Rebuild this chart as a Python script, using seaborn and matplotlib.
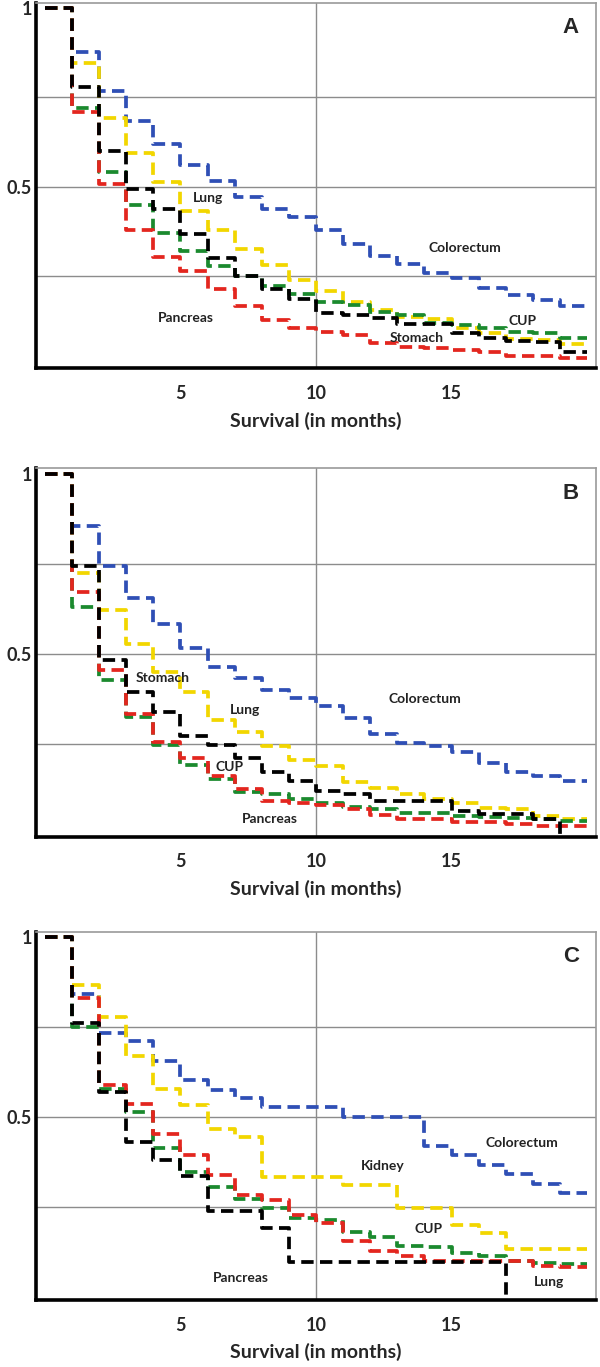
import numpy as np
import pandas as pd
import matplotlib
matplotlib.use("Agg")
import matplotlib.pyplot as plt
import seaborn as sns

# kurva survival per bulan (nilai untuk interval [k, k+1))
months = list(range(20))

# Panel A
a_colorectum = [1, 0.878, 0.769, 0.685, 0.619, 0.56, 0.516, 0.472, 0.4375, 0.416,
                0.38, 0.34, 0.306, 0.283, 0.259, 0.245, 0.217, 0.197, 0.183, 0.166]
a_lung = [1, 0.845, 0.691, 0.595, 0.512, 0.433, 0.38, 0.327, 0.28, 0.24,
          0.208, 0.178, 0.155, 0.136, 0.13, 0.104, 0.09, 0.073, 0.071, 0.059]
a_cup = [1, 0.72, 0.54, 0.45, 0.371, 0.32, 0.279, 0.25, 0.222, 0.2,
         0.178, 0.169, 0.15, 0.141, 0.119, 0.113, 0.104, 0.094, 0.09, 0.077]
a_pancreas = [1, 0.71, 0.507, 0.38, 0.304, 0.265, 0.215, 0.166, 0.127, 0.104,
              0.094, 0.085, 0.064, 0.052, 0.048, 0.043, 0.038, 0.026, 0.026, 0.02]
a_stomach = [1, 0.778, 0.60, 0.494, 0.4375, 0.369, 0.302, 0.25, 0.213, 0.186,
             0.148, 0.141, 0.132, 0.116, 0.116, 0.091, 0.076, 0.068, 0.066, 0.038]

# Panel B
b_colorectum = [1, 0.854, 0.745, 0.656, 0.583, 0.516, 0.463, 0.434, 0.399, 0.376,
                0.356, 0.323, 0.278, 0.253, 0.243, 0.227, 0.196, 0.171, 0.161, 0.147]
b_lung = [1, 0.723, 0.621, 0.526, 0.448, 0.393, 0.315, 0.284, 0.243, 0.205,
          0.187, 0.144, 0.128, 0.11, 0.098, 0.085, 0.072, 0.068, 0.049, 0.04]
b_cup = [1, 0.631, 0.426, 0.325, 0.247, 0.191, 0.152, 0.117, 0.11, 0.098,
         0.086, 0.074, 0.068, 0.058, 0.058, 0.049, 0.047, 0.044, 0.04, 0.035]
b_pancreas = [1, 0.672, 0.455, 0.334, 0.255, 0.21, 0.161, 0.124, 0.091, 0.086,
              0.079, 0.07, 0.051, 0.042, 0.04, 0.032, 0.032, 0.026, 0.023, 0.021]
b_stomach = [1, 0.745, 0.483, 0.395, 0.337, 0.273, 0.247, 0.21, 0.172, 0.147,
             0.119, 0.11, 0.091, 0.091, 0.091, 0.063, 0.054, 0.054, 0.04, 0.0]

# Panel C
c_colorectum = [1, 0.841, 0.734, 0.711, 0.657, 0.603, 0.576, 0.553, 0.527, 0.527,
                0.527, 0.5, 0.5, 0.5, 0.419, 0.394, 0.368, 0.342, 0.314, 0.289]
c_kidney = [1, 0.868, 0.778, 0.671, 0.578, 0.534, 0.466, 0.445, 0.333, 0.333,
            0.333, 0.312, 0.312, 0.247, 0.247, 0.2, 0.177, 0.134, 0.134, 0.134]
c_cup = [1, 0.75, 0.578, 0.513, 0.415, 0.348, 0.307, 0.272, 0.247, 0.219,
         0.215, 0.182, 0.168, 0.142, 0.138, 0.123, 0.115, 0.1, 0.096, 0.091]
c_red = [1, 0.832, 0.589, 0.536, 0.452, 0.394, 0.338, 0.284, 0.27, 0.228,
         0.205, 0.156, 0.128, 0.115, 0.1, 0.1, 0.1, 0.1, 0.087, 0.084]
c_black = [1, 0.761, 0.57, 0.432, 0.382, 0.336, 0.238, 0.238, 0.191, 0.098,
           0.098, 0.098, 0.098, 0.098, 0.098, 0.098, 0.098, 0.005]

# akhir sumbu x tiap kurva
end_full = 20
end_b_black = 19.15
end_c_black = 17.05

colors = {"blue": "#2f4fb5", "yellow": "#f2d600", "green": "#1b8a2e",
          "red": "#e3261f", "black": "#000000"}

panels = [
    ("A", [("blue", a_colorectum, end_full), ("yellow", a_lung, end_full),
           ("green", a_cup, end_full), ("red", a_pancreas, end_full),
           ("black", a_stomach, end_full)],
     [("Lung", 6.0, 0.468), ("Pancreas", 5.2, 0.133), ("Colorectum", 15.5, 0.329),
      ("CUP", 17.6, 0.124), ("Stomach", 13.7, 0.077)]),
    ("B", [("blue", b_colorectum, end_full), ("yellow", b_lung, end_full),
           ("green", b_cup, end_full), ("red", b_pancreas, end_full),
           ("black", b_stomach, end_b_black)],
     [("Stomach", 4.35, 0.432), ("Lung", 7.38, 0.344), ("CUP", 6.81, 0.185),
      ("Pancreas", 8.29, 0.042), ("Colorectum", 14.0, 0.374)]),
    ("C", [("blue", c_colorectum, end_full), ("yellow", c_kidney, end_full),
           ("green", c_cup, end_full), ("red", c_red, end_full),
           ("black", c_black, end_c_black)],
     [("Pancreas", 7.21, 0.054), ("Kidney", 12.47, 0.364), ("Colorectum", 17.58, 0.429),
      ("CUP", 14.16, 0.189), ("Lung", 18.6, 0.042)]),
]

sns.set_style("white")
plt.rcParams["font.family"] = ["Lato", "DejaVu Sans"]

fig = plt.figure(figsize=(6, 13.67), dpi=100)
H = 1367.0
boxes = [(2.7, 368.3), (468.3, 836.7), (931.7, 1300.0)]

for (letter, series, labels), (top, bottom) in zip(panels, boxes):
    ax = fig.add_axes([36 / 600, 1 - bottom / H, 560 / 600, (bottom - top) / H])

    for cname, vals, end in series:
        xs = list(range(len(vals))) + [end]
        ys = list(vals) + [vals[-1]]
        df = pd.DataFrame({"bulan": xs, "survival": ys})
        sns.lineplot(data=df, x="bulan", y="survival", ax=ax, color=colors[cname],
                     drawstyle="steps-post", linewidth=2.7,
                     linestyle=(0, (3.3, 1.7)), dash_capstyle="butt",
                     sort=False, estimator=None)

    ax.set_xlim(-0.33, 20.33)
    ax.set_ylim(-0.008, 1.015)

    # garis grid lewat minor tick (jangan dibuang walau sama dengan major)
    ax.xaxis.remove_overlapping_locs = False
    ax.yaxis.remove_overlapping_locs = False
    ax.set_xticks([5, 10, 15])
    ax.set_xticklabels(["5", "10", "15"], fontweight="bold", fontsize=13)
    ax.set_yticks([0.5, 1])
    ax.set_yticklabels(["0.5", "1"], fontweight="bold", fontsize=13)
    ax.set_yticks([0.25, 0.5, 0.75], minor=True)
    ax.set_xticks([10], minor=True)
    ax.tick_params(which="both", length=0)
    ax.tick_params(axis="x", pad=12)
    ax.tick_params(axis="y", pad=3)
    ax.grid(False)
    ax.grid(which="minor", color="#8c8c8c", linewidth=1.0)
    ax.set_axisbelow(True)

    for s in ["left", "bottom"]:
        ax.spines[s].set_color("black")
        ax.spines[s].set_linewidth(2.6)
    for s in ["top", "right"]:
        ax.spines[s].set_color("#9a9a9a")
        ax.spines[s].set_linewidth(1.2)

    ax.set_xlabel("Survival (in months)", fontweight="bold", fontsize=14, labelpad=7)
    ax.set_ylabel("")

    for txt, x, y in labels:
        ax.text(x, y, txt, ha="center", va="center", fontsize=10,
                fontweight="bold", color="#222222")
    ax.text(19.4, 0.946, letter, ha="center", va="center", fontsize=16,
            fontweight="bold", family=["Liberation Sans", "DejaVu Sans"])

fig.savefig("out.png", dpi=100)
